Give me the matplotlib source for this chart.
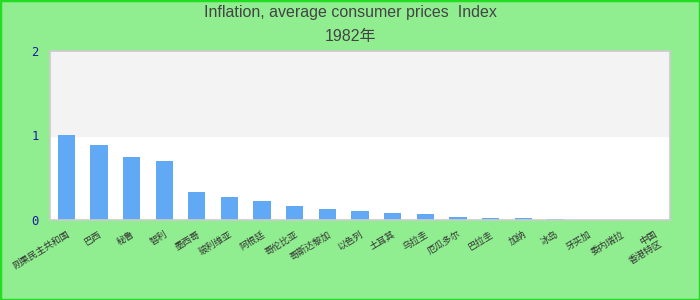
import matplotlib
matplotlib.use("Agg")
import matplotlib.pyplot as plt
from matplotlib.patches import Rectangle
from matplotlib.transforms import ScaledTranslation

plt.rcParams['font.family'] = ['Liberation Sans', 'Noto Sans CJK SC', 'DejaVu Sans']

# data
countries = ["刚果民主共和国", "巴西", "秘鲁", "智利", "墨西哥", "玻利维亚", "阿根廷",
             "哥伦比亚", "哥斯达黎加", "以色列", "土耳其", "乌拉圭", "厄瓜多尔", "巴拉圭",
             "加纳", "冰岛", "牙买加", "委内瑞拉", "中国\n香港特区"]
index_1982 = [1.01, 0.89, 0.75, 0.70, 0.33, 0.27, 0.22, 0.17, 0.13, 0.105,
              0.08, 0.07, 0.035, 0.024, 0.024, 0.012, 0, 0, 0]
yticks = [0, 1, 2]

fig = plt.figure(figsize=(7, 3), dpi=100, facecolor='#90ee90')
fig.patches.append(Rectangle((0, 0), 1, 1, transform=fig.transFigure, fill=False,
                             edgecolor='#22dd22', linewidth=2.5))

ax = fig.add_axes([50/700, 80/300, 620/700, 169/300])
ax.set_facecolor('white')
ax.axhspan(1, 2, color='#f3f3f3', zorder=0)

x = range(len(countries))
ax.bar(x, index_1982, width=0.53, color='#61a9f4', zorder=2)

ax.set_xlim(-0.5, len(countries) - 0.5)
ax.set_ylim(0, 2)
ax.set_yticks(yticks)
ax.set_yticklabels([str(v) for v in yticks], family='DejaVu Sans Mono',
                   fontsize=8.8, color='#1c1c9c')
ax.set_xticks(list(x))
ax.set_xticklabels(countries, rotation=31, ha='right', rotation_mode='anchor',
                   fontsize=6.7, color='#333333',
                   family=['Noto Sans CJK SC', 'DejaVu Sans'])
shift = ScaledTranslation(-9/100, 0, fig.dpi_scale_trans)
for lab in ax.get_xticklabels():
    lab.set_transform(lab.get_transform() + shift)
ax.tick_params(axis='both', length=0, pad=7)
ax.tick_params(axis='y', pad=8)
for s in ax.spines.values():
    s.set_color('#cccccc')
    s.set_linewidth(1.2)

fig.text(0.5, 1 - 13/300, "Inflation, average consumer prices  Index", ha='center',
         va='center', fontsize=11.5, color='#444444')
fig.text(0.5, 1 - 37/300, "1982年", ha='center', va='center', fontsize=11.5,
         color='#444444', family=['Liberation Sans', 'Noto Sans CJK SC'])

fig.savefig("out.png", dpi=100, facecolor=fig.get_facecolor())
